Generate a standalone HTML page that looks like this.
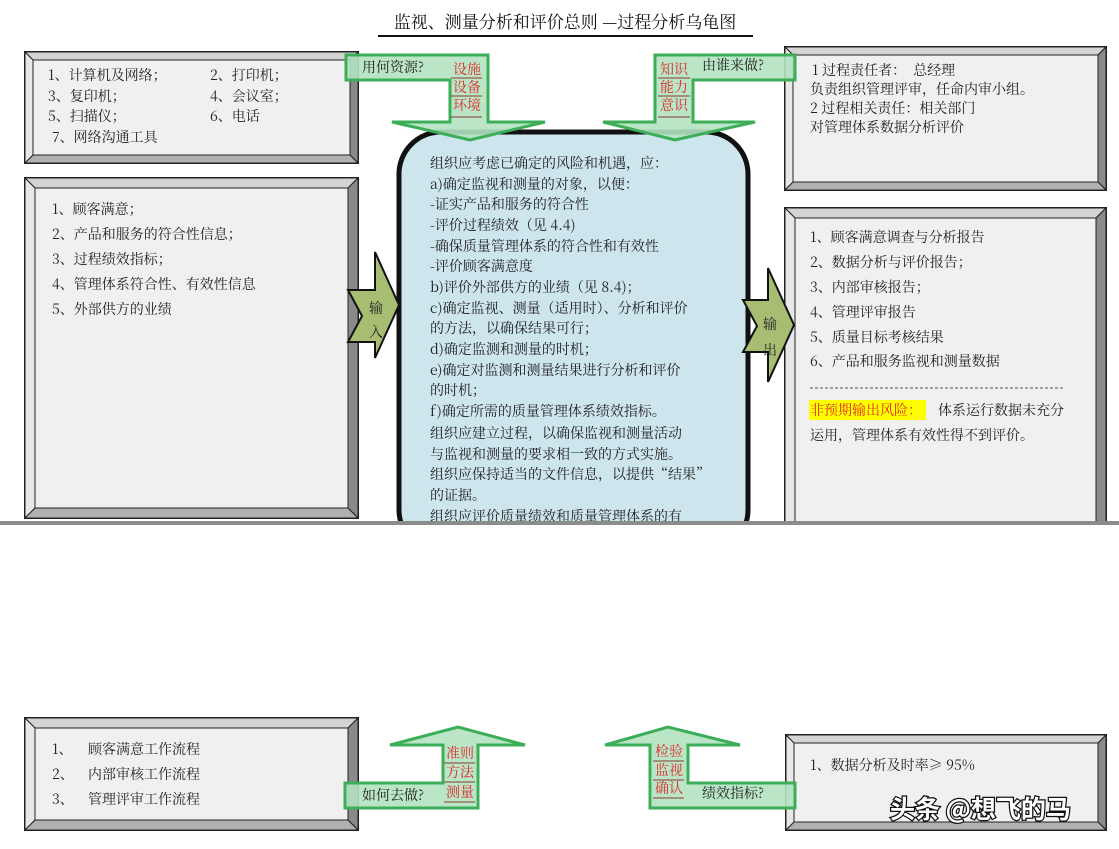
<!DOCTYPE html>
<html><head><meta charset="utf-8"><style>
html,body{margin:0;padding:0;background:#fff;width:1119px;height:849px;overflow:hidden}
svg{display:block}
text{font-family:"Noto Serif CJK SC","Liberation Serif",serif;font-size:14px;fill:#222}
.r{fill:#e02a2a}
</style></head><body>
<svg width="1119" height="849" viewBox="0 0 1119 849" xmlns="http://www.w3.org/2000/svg">
<text x="565" y="28" text-anchor="middle" style="font-size:17px;fill:#111">监视、测量分析和评价总则 —过程分析乌龟图</text>
<line x1="378" y1="36" x2="753" y2="36" stroke="#111" stroke-width="2"/>

<g stroke="#222" stroke-width="1">
<rect x="25" y="52" width="333" height="111" fill="#f0f0f0" stroke-width="2"/>
<polygon points="25,52 358,52 350,60 33,60" fill="#d4d4d4"/>
<polygon points="25,52 33,60 33,155 25,163" fill="#e8e8e8"/>
<polygon points="358,52 358,163 350,155 350,60" fill="#8a8a8a"/>
<polygon points="25,163 358,163 350,155 33,155" fill="#b0b0b0"/>
<rect x="33" y="60" width="317" height="95" fill="#f0f0f0"/>
</g>
<text x="48" y="80">1、计算机及网络；</text><text x="210" y="80">2、打印机；</text>
<text x="48" y="101">3、复印机；</text><text x="210" y="101">4、会议室；</text>
<text x="48" y="121">5、扫描仪；</text><text x="210" y="121">6、电话</text>
<text x="52" y="142">7、网络沟通工具</text>

<g stroke="#222" stroke-width="1">
<rect x="25" y="178" width="333" height="340" fill="#f0f0f0" stroke-width="2"/>
<polygon points="25,178 358,178 348,188 35,188" fill="#d4d4d4"/>
<polygon points="25,178 35,188 35,508 25,518" fill="#e8e8e8"/>
<polygon points="358,178 358,518 348,508 348,188" fill="#8a8a8a"/>
<polygon points="25,518 358,518 348,508 35,508" fill="#b0b0b0"/>
<rect x="35" y="188" width="313" height="320" fill="#f0f0f0"/>
</g>
<text x="52" y="214">1、顾客满意；</text>
<text x="52" y="239">2、产品和服务的符合性信息；</text>
<text x="52" y="264">3、过程绩效指标；</text>
<text x="52" y="289">4、管理体系符合性、有效性信息</text>
<text x="52" y="314">5、外部供方的业绩</text>

<g stroke="#222" stroke-width="1">
<rect x="785" y="47" width="321" height="143" fill="#f0f0f0" stroke-width="2"/>
<polygon points="785,47 1106,47 1098,55 793,55" fill="#d4d4d4"/>
<polygon points="785,47 793,55 793,182 785,190" fill="#e8e8e8"/>
<polygon points="1106,47 1106,190 1098,182 1098,55" fill="#8a8a8a"/>
<polygon points="785,190 1106,190 1098,182 793,182" fill="#b0b0b0"/>
<rect x="793" y="55" width="305" height="127" fill="#f0f0f0"/>
</g>
<text x="812" y="75">1 过程责任者：　总经理</text>
<text x="810" y="94">负责组织管理评审，任命内审小组。</text>
<text x="810" y="113">2 过程相关责任：相关部门</text>
<text x="810" y="132">对管理体系数据分析评价</text>

<g stroke="#222" stroke-width="1">
<rect x="785" y="208" width="321" height="330" fill="#f0f0f0" stroke-width="2"/>
<polygon points="785,208 1106,208 1096,218 795,218" fill="#d4d4d4"/>
<polygon points="785,208 795,218 795,538 785,538" fill="#e8e8e8"/>
<polygon points="1106,208 1106,538 1096,538 1096,218" fill="#8a8a8a"/>
<rect x="795" y="218" width="301" height="320" fill="#f0f0f0"/>
</g>
<text x="810" y="242">1、顾客满意调查与分析报告</text>
<text x="810" y="267">2、数据分析与评价报告；</text>
<text x="810" y="292">3、内部审核报告；</text>
<text x="810" y="317">4、管理评审报告</text>
<text x="810" y="342">5、质量目标考核结果</text>
<text x="810" y="366">6、产品和服务监视和测量数据</text>
<line x1="810" y1="388" x2="1064" y2="388" stroke="#555" stroke-dasharray="3,2" stroke-width="1"/>
<rect x="809" y="400" width="117" height="20" fill="#ffff00"/>
<text x="810" y="415" class="r">非预期输出风险：</text><text x="938" y="415">体系运行数据未充分</text>
<text x="810" y="440">运用，管理体系有效性得不到评价。</text>

<rect x="399" y="132" width="349" height="420" rx="42" ry="42" fill="#cde6ee" stroke="#111" stroke-width="5"/>
<g>
<text x="430" y="168">组织应考虑已确定的风险和机遇，应：</text>
<text x="430" y="189">a)确定监视和测量的对象，以便：</text>
<text x="430" y="209">-证实产品和服务的符合性</text>
<text x="430" y="230">-评价过程绩效（见 4.4)</text>
<text x="430" y="251">-确保质量管理体系的符合性和有效性</text>
<text x="430" y="271">-评价顾客满意度</text>
<text x="430" y="292">b)评价外部供方的业绩（见 8.4)；</text>
<text x="430" y="313">c)确定监视、测量（适用时）、分析和评价</text>
<text x="430" y="333">的方法，以确保结果可行；</text>
<text x="430" y="354">d)确定监测和测量的时机；</text>
<text x="430" y="375">e)确定对监测和测量结果进行分析和评价</text>
<text x="430" y="395">的时机；</text>
<text x="430" y="416">f)确定所需的质量管理体系绩效指标。</text>
<text x="430" y="438">组织应建立过程，以确保监视和测量活动</text>
<text x="430" y="459">与监视和测量的要求相一致的方式实施。</text>
<text x="430" y="479">组织应保持适当的文件信息，以提供“结果”</text>
<text x="430" y="500">的证据。</text>
<text x="430" y="521">组织应评价质量绩效和质量管理体系的有</text>
</g>

<polygon points="348,290 375,290 375,252 399,305 375,358 375,342 348,342 362,316" fill="#a6bd72" stroke="#111" stroke-width="2"/>
<text x="369" y="313">输</text><text x="369" y="337">入</text>
<polygon points="743,300 768,300 768,268 794,325 768,382 768,352 743,352 757,326" fill="#a6bd72" stroke="#111" stroke-width="2"/>
<text x="763" y="329">输</text><text x="763" y="355">出</text>

<polygon points="346,55 488,55 488,122 545,122 470,140 392,122 450,122 450,80 346,80" fill="#b2e2c0" fill-opacity="0.9" stroke="#3cae58" stroke-width="3"/>
<text x="362" y="72">用何资源?</text>
<text x="453" y="74" class="r">设施</text><line x1="451" y1="78" x2="482" y2="78" stroke="#8a3a2a"/>
<text x="453" y="92" class="r">设备</text><line x1="451" y1="96" x2="482" y2="96" stroke="#8a3a2a"/>
<text x="453" y="110" class="r">环境</text><line x1="451" y1="117" x2="482" y2="117" stroke="#8a3a2a"/>

<polygon points="795,55 655,55 655,122 603,122 675,140 755,122 693,122 693,80 795,80" fill="#b2e2c0" fill-opacity="0.9" stroke="#3cae58" stroke-width="3"/>
<text x="702" y="70">由谁来做?</text>
<text x="660" y="74" class="r">知识</text><line x1="658" y1="78" x2="690" y2="78" stroke="#8a3a2a"/>
<text x="660" y="92" class="r">能力</text><line x1="658" y1="96" x2="690" y2="96" stroke="#8a3a2a"/>
<text x="660" y="110" class="r">意识</text><line x1="658" y1="117" x2="690" y2="117" stroke="#8a3a2a"/>

<rect x="0" y="521" width="1119" height="4" fill="#8c8c8c"/>
<rect x="0" y="525" width="1119" height="190" fill="#fff"/>

<g stroke="#222" stroke-width="1">
<rect x="25" y="718" width="333" height="112" fill="#f0f0f0" stroke-width="2"/>
<polygon points="25,718 358,718 348,728 35,728" fill="#d4d4d4"/>
<polygon points="25,718 35,728 35,820 25,830" fill="#e8e8e8"/>
<polygon points="358,718 358,830 348,820 348,728" fill="#8a8a8a"/>
<polygon points="25,830 358,830 348,820 35,820" fill="#b0b0b0"/>
<rect x="35" y="728" width="313" height="92" fill="#f0f0f0"/>
</g>
<text x="52" y="754">1、</text><text x="88" y="754">顾客满意工作流程</text>
<text x="52" y="779">2、</text><text x="88" y="779">内部审核工作流程</text>
<text x="52" y="804">3、</text><text x="88" y="804">管理评审工作流程</text>

<g stroke="#222" stroke-width="1">
<rect x="786" y="735" width="320" height="95" fill="#f0f0f0" stroke-width="2"/>
<polygon points="786,735 1106,735 1098,743 794,743" fill="#d4d4d4"/>
<polygon points="786,735 794,743 794,822 786,830" fill="#e8e8e8"/>
<polygon points="1106,735 1106,830 1098,822 1098,743" fill="#8a8a8a"/>
<polygon points="786,830 1106,830 1098,822 794,822" fill="#b0b0b0"/>
<rect x="794" y="743" width="304" height="79" fill="#f0f0f0"/>
</g>
<text x="810" y="770">1、数据分析及时率≥ 95%</text>

<polygon points="345,808 478,808 478,745 525,745 458,727 390,745 443,745 443,783 345,783" fill="#b2e2c0" fill-opacity="0.9" stroke="#3cae58" stroke-width="3"/>
<text x="362" y="800">如何去做?</text>
<text x="446" y="758" class="r">准则</text><line x1="444" y1="763" x2="475" y2="763" stroke="#8a3a2a"/>
<text x="446" y="777" class="r">方法</text><line x1="444" y1="782" x2="475" y2="782" stroke="#8a3a2a"/>
<text x="446" y="797" class="r">测量</text><line x1="444" y1="802" x2="475" y2="802" stroke="#8a3a2a"/>

<polygon points="795,808 650,808 650,745 605,745 668,727 740,745 688,745 688,783 795,783" fill="#b2e2c0" fill-opacity="0.9" stroke="#3cae58" stroke-width="3"/>
<text x="702" y="798">绩效指标?</text>
<text x="655" y="756" class="r">检验</text><line x1="653" y1="761" x2="684" y2="761" stroke="#8a3a2a"/>
<text x="655" y="775" class="r">监视</text><line x1="653" y1="780" x2="684" y2="780" stroke="#8a3a2a"/>
<text x="655" y="793" class="r">确认</text><line x1="653" y1="798" x2="684" y2="798" stroke="#8a3a2a"/>

<text x="890" y="818" style="font-family:'Noto Sans CJK SC',sans-serif;font-size:25px;font-weight:bold;fill:#fff;stroke:#111;stroke-width:2.5px;paint-order:stroke">头条 @想飞的马</text>
</svg>
</body></html>
